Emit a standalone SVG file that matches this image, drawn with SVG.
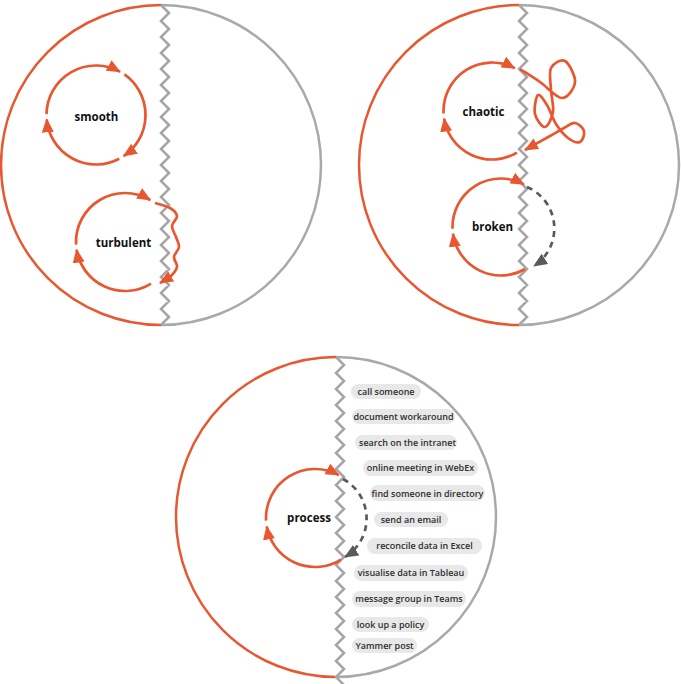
<svg xmlns="http://www.w3.org/2000/svg" width="681" height="684" viewBox="0 0 681 684">
<style>
.bg{fill:#ffffff}
.half-o{fill:none;stroke:#e8572f;stroke-width:2.5}
.half-g{fill:none;stroke:#a9a9a9;stroke-width:2.5}
.zig{fill:none;stroke:#a6a6a6;stroke-width:2.5;stroke-linejoin:miter}
.loop{fill:none;stroke:#e8572f;stroke-width:2.7;marker-end:url(#ao)}
.dash{fill:none;stroke:#5a5a5a;stroke-width:2.7;stroke-dasharray:6 5;marker-end:url(#ag)}
.lbl{font-family:"Open Sans","Noto Sans","Liberation Sans",sans-serif;font-weight:700;font-size:11.5px;fill:#111;text-anchor:middle}
.pill{fill:#e8e8e8}
.ptxt{font-family:"Open Sans","Noto Sans","Liberation Sans",sans-serif;font-weight:600;font-size:9px;fill:#2e2e2e;text-anchor:middle}
</style>
<defs>
<marker id="ao" markerUnits="userSpaceOnUse" viewBox="0 0 14 12" markerWidth="14" markerHeight="12" refX="13" refY="6" orient="auto">
<path d="M0,0 L14,6 L0,12 z" fill="#e8572f"/>
</marker>
<marker id="ag" markerUnits="userSpaceOnUse" viewBox="0 0 14 12" markerWidth="14" markerHeight="12" refX="13" refY="6" orient="auto">
<path d="M0,0 L14,6 L0,12 z" fill="#5a5a5a"/>
</marker>
</defs>
<rect class="bg" x="0" y="0" width="681" height="684"/>

<g id="frame-left">
<path class="half-o" d="M161,5 A160,160 0 0 0 161,325"/>
<path class="half-g" d="M161,5 A160,160 0 0 1 161,325"/>
<path class="zig" d="M161,5 l8 8 -8 8 8 8 -8 8 8 8 -8 8 8 8 -8 8 8 8 -8 8 8 8 -8 8 8 8 -8 8 8 8 -8 8 8 8 -8 8 8 8 -8 8 8 8 -8 8 8 8 -8 8 8 8 -8 8 8 8 -8 8 8 8 -8 8 8 8 -8 8 8 8 -8 8 8 8 -8 8 8 8 -8 8 8 8 -8 8"/>
</g>
<g id="frame-right">
<path class="half-o" d="M519,5 A160,160 0 0 0 519,325"/>
<path class="half-g" d="M519,5 A160,160 0 0 1 519,325"/>
<path class="zig" d="M519,5 l8 8 -8 8 8 8 -8 8 8 8 -8 8 8 8 -8 8 8 8 -8 8 8 8 -8 8 8 8 -8 8 8 8 -8 8 8 8 -8 8 8 8 -8 8 8 8 -8 8 8 8 -8 8 8 8 -8 8 8 8 -8 8 8 8 -8 8 8 8 -8 8 8 8 -8 8 8 8 -8 8 8 8 -8 8 8 8 -8 8"/>
</g>
<g id="frame-bottom">
<path class="half-o" d="M336,357 A160,160 0 0 0 336,677"/>
<path class="half-g" d="M336,357 A160,160 0 0 1 336,677"/>
<path class="zig" d="M336,357 l8 8 -8 8 8 8 -8 8 8 8 -8 8 8 8 -8 8 8 8 -8 8 8 8 -8 8 8 8 -8 8 8 8 -8 8 8 8 -8 8 8 8 -8 8 8 8 -8 8 8 8 -8 8 8 8 -8 8 8 8 -8 8 8 8 -8 8 8 8 -8 8 8 8 -8 8 8 8 -8 8 8 8 -8 8 8 8 -8 8 8 8 -8 8"/>
</g>

<g id="connectors">
<!-- smooth -->
<path class="loop" d="M46.51,114.14 A49.5,49.5 0 0 1 120.0,71.71"/>
<path class="loop" d="M124.39,74.45 A49.5,49.5 0 0 1 123.68,156.04"/>
<path class="loop" d="M119.24,158.70 A49.5,49.5 0 0 1 46.69,119.31"/>
<!-- turbulent -->
<path class="loop" d="M76.07,244.56 A49,49 0 0 1 150.24,200.0"/>
<path class="loop" d="M155,203 C157.5,203.8 166.3,205.8 170,208 C173.7,210.2 176.7,213 177,216 C177.3,219 172.2,222.5 172,226 C171.8,229.5 174.8,233.5 176,237 C177.2,240.5 179.3,243.7 179,247 C178.7,250.3 174.3,253.7 174,257 C173.7,260.3 177.7,263.7 177,267 C176.3,270.3 172.8,274.3 170,277 C167.2,279.7 161.7,282 160,283"/>
<path class="loop" d="M150.97,283.55 A49,49 0 0 1 76.60,249.67"/>
<!-- chaotic -->
<path class="loop" d="M443.57,113.54 A48.5,48.5 0 0 1 514.77,68.18"/>
<path class="loop" d="M520,69 C523.3,71.2 533,77.2 540,82 C547,86.8 556.2,98 562,98 C567.8,98 574.5,88.2 575,82 C575.5,75.8 569,63.3 565,61 C561,58.7 553.3,63.2 551,68 C548.7,72.8 550.7,82.7 551,90 C551.3,97.3 554,105.8 553,112 C552,118.2 548,126.7 545,127 C542,127.3 536.2,119.3 535,114 C533.8,108.7 536,96.5 538,95 C540,93.5 544,100.2 547,105 C550,109.8 552.5,118.5 556,124 C559.5,129.5 564,135 568,138 C572,141 577.3,143.2 580,142 C582.7,140.8 584.8,134.2 584,131 C583.2,127.8 578.3,123.5 575,123 C571.7,122.5 568.2,125.8 564,128 C559.8,130.2 556.5,132.3 550,136 C543.5,139.7 529.2,147.7 525,150"/>
<path class="loop" d="M516.98,152.57 A48.5,48.5 0 0 1 444.10,118.59"/>
<!-- broken -->
<path class="loop" d="M452.53,228.69 A48.5,48.5 0 0 1 523.77,184.18"/>
<path class="dash" d="M527,187 A45,45 0 0 1 534,266"/>
<path class="loop" d="M525.25,269.0 A48.5,48.5 0 0 1 452.97,233.75"/>
<!-- process -->
<path class="loop" d="M266.07,520.56 A49,49 0 0 1 338.76,475.14"/>
<path class="dash" d="M343,479 A45,45 0 0 1 345,557"/>
<path class="loop" d="M340.97,559.55 A49,49 0 0 1 266.74,526.51"/>
</g>

<g id="node-smooth"><text class="lbl" x="96.5" y="121">smooth</text></g>
<g id="node-turbulent"><text class="lbl" x="123.5" y="246.5">turbulent</text></g>
<g id="node-chaotic"><text class="lbl" x="483.5" y="116">chaotic</text></g>
<g id="node-broken"><text class="lbl" x="492.5" y="231">broken</text></g>
<g id="node-process"><text class="lbl" x="309" y="522">process</text></g>

<g id="task-1"><rect class="pill" x="351" y="384" width="70" height="15" rx="7.5"/><text class="ptxt" x="386" y="394.6">call someone</text></g>
<g id="task-2"><rect class="pill" x="352" y="409" width="103" height="15" rx="7.5"/><text class="ptxt" x="403.5" y="419.6">document workaround</text></g>
<g id="task-3"><rect class="pill" x="355" y="435" width="102" height="15" rx="7.5"/><text class="ptxt" x="407.5" y="445.6">search on the intranet</text></g>
<g id="task-4"><rect class="pill" x="363" y="460" width="115" height="16" rx="8"/><text class="ptxt" x="420.5" y="471.1">online meeting in WebEx</text></g>
<g id="task-5"><rect class="pill" x="370" y="485" width="115" height="16" rx="8"/><text class="ptxt" x="427.5" y="496.6">find someone in directory</text></g>
<g id="task-6"><rect class="pill" x="374" y="512" width="74" height="15" rx="7.5"/><text class="ptxt" x="411" y="522.6">send an email</text></g>
<g id="task-7"><rect class="pill" x="367" y="538" width="115" height="16" rx="8"/><text class="ptxt" x="424.5" y="549.1">reconcile data in Excel</text></g>
<g id="task-8"><rect class="pill" x="354" y="565" width="114" height="16" rx="8"/><text class="ptxt" x="411" y="576.1">visualise data in Tableau</text></g>
<g id="task-9"><rect class="pill" x="352" y="591" width="114" height="16" rx="8"/><text class="ptxt" x="409" y="602.1">message group in Teams</text></g>
<g id="task-10"><rect class="pill" x="352" y="617" width="77" height="15" rx="7.5"/><text class="ptxt" x="390.5" y="627.6">look up a policy</text></g>
<g id="task-11"><rect class="pill" x="352" y="638" width="65" height="15" rx="7.5"/><text class="ptxt" x="384.5" y="648.6">Yammer post</text></g>
</svg>
